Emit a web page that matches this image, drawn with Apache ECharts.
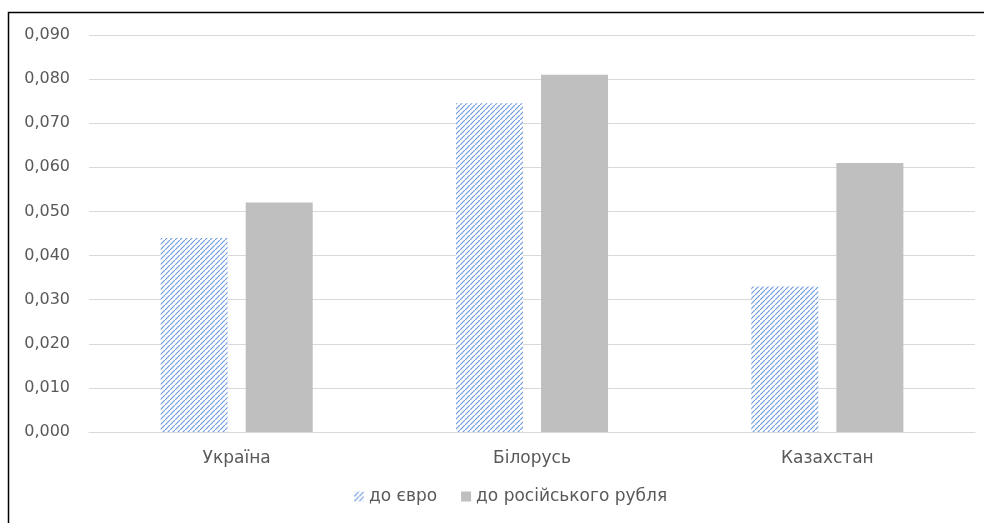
<!DOCTYPE html>
<html><head><meta charset="utf-8">
<script src="https://cdn.jsdelivr.net/npm/echarts@6/dist/echarts.min.js"></script>
<style>html,body{margin:0;padding:0;background:#fff}#c{width:984px;height:523px}</style>
</head><body><div id="c"></div>
<script>
const categories = ['Україна', 'Білорусь', 'Казахстан'];
const seriesNames = ['до євро', 'до російського рубля'];
const euroValues = [0.044, 0.0745, 0.033];
const rubValues = [0.052, 0.081, 0.061];

function hatch() {
  const n = 5;
  const c = document.createElement('canvas');
  c.width = n; c.height = n;
  const g = c.getContext('2d');
  g.fillStyle = '#ffffff'; g.fillRect(0, 0, n, n);
  g.strokeStyle = '#6f9be0'; g.lineWidth = 1.2;
  g.beginPath();
  g.moveTo(-1, n + 1); g.lineTo(n + 1, -1);
  g.moveTo(-n - 1, 1); g.lineTo(1, -n - 1);
  g.moveTo(n - 1, 2 * n + 1); g.lineTo(2 * n + 1, n - 1);
  g.stroke();
  return c;
}
const pat = { image: hatch(), repeat: 'repeat' };
const font = 'DejaVu Sans, sans-serif';
const chart = echarts.init(document.getElementById('c'));
chart.setOption({
  animation: false,
  graphic: [{ type: 'rect', shape: { x: 8.5, y: 12.5, width: 1000, height: 600 }, style: { fill: 'none', stroke: '#000', lineWidth: 1.5 }, z: 100 }],
  grid: { left: 89, right: 9, top: 35, bottom: 91 },
  legend: {
    bottom: 13, left: 349, itemWidth: 10, itemHeight: 10, itemGap: 24,
    textStyle: { color: '#595959', fontSize: 17, fontFamily: font },
    data: [{ name: seriesNames[0], icon: 'rect' }, { name: seriesNames[1], icon: 'rect' }]
  },
  xAxis: {
    type: 'category', data: categories,
    axisLine: { lineStyle: { color: '#d9d9d9', width: 1 } },
    axisTick: { show: false },
    axisLabel: { color: '#595959', fontSize: 17, fontFamily: font, margin: 18 }
  },
  yAxis: {
    type: 'value', min: 0, max: 0.09, interval: 0.01,
    axisLine: { show: false }, axisTick: { show: false },
    splitLine: { lineStyle: { color: '#d9d9d9', width: 1 } },
    axisLabel: { color: '#595959', fontSize: 16, fontFamily: font, margin: 19,
      formatter: v => v.toFixed(3).replace('.', ',') }
  },
  series: [
    { name: seriesNames[0], type: 'bar', data: euroValues, barWidth: 67, barGap: '27%',
      itemStyle: { color: pat } },
    { name: seriesNames[1], type: 'bar', data: rubValues, barWidth: 67,
      itemStyle: { color: '#bfbfbf' } }
  ]
});
</script></body></html>
